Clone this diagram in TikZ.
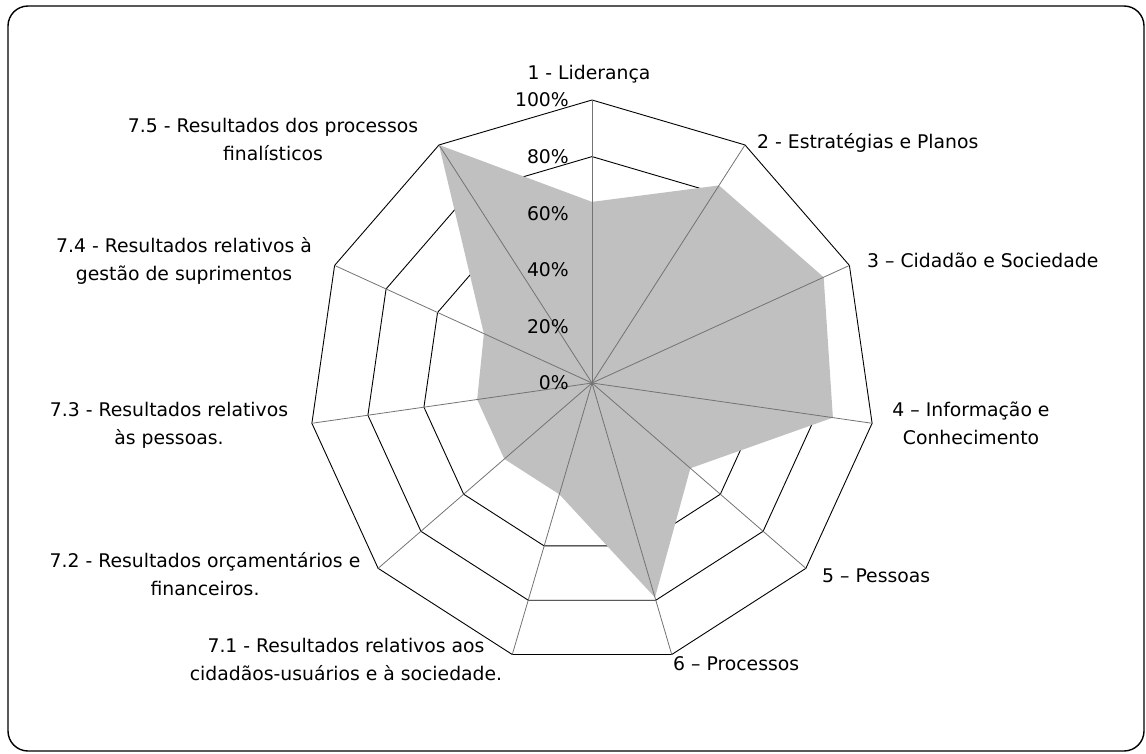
\documentclass[tikz,border=0pt]{standalone}
\usepackage{fontspec}
\setmainfont{DejaVu Sans}
\definecolor{areagray}{RGB}{192,192,192}
\definecolor{spokegray}{RGB}{115,115,115}
\begin{document}
\begin{tikzpicture}[x=1pt,y=-1pt,line join=round,font=\fontsize{18.8}{27.3}\selectfont]
	\tikzset{every node/.style={inner sep=0pt,text=black},
		ring/.style={line width=0.9pt},
		spoke/.style={line width=0.8pt,draw=spokegray},
		lbl/.style={align=center,anchor=base}}
	\useasboundingbox (0,0) rectangle (1146,753);
	\draw[line width=1.4pt,rounded corners=20pt] (8,6) rectangle (1144,751);
	\begin{scope}[shift={(592,383)}]
		\coordinate (c) at (0,0);
		\foreach \r in {1,...,5}
			\draw[ring] (-90:\r*56.6) \foreach \k in {1,...,10}{ -- (\k*360/11-90:\r*56.6)} -- cycle;
		\foreach \v [count=\k from 0] in {64,83,90,86,46,79,41,41,41,42,100}
			\coordinate (d\k) at (\k*360/11-90:\v*2.83);
		\fill[areagray] (d0)--(d1)--(d2)--(d3)--(d4)--(d5)--(d6)--(d7)--(d8)--(d9)--(d10)--cycle;
		\foreach \k in {0,...,10}
			\draw[spoke] (c)--(\k*360/11-90:283);
	\end{scope}
	% percent scale
	\path
	(569,383)node[anchor=east](p0){0\%}
	(569,326.4)node[anchor=east](p20){20\%}
	(569,269.8)node[anchor=east](p40){40\%}
	(569,213.2)node[anchor=east](p60){60\%}
	(569,156.6)node[anchor=east](p80){80\%}
	(569,100)node[anchor=east](p100){100\%}
	;
	% axis labels (base = last line)
	\path
	(589,79)node[lbl](l1){1 - Liderança}
	(757,148)node[anchor=base west](l2){2 - Estratégias e Planos}
	(867,267)node[anchor=base west](l3){3 – Cidadão e Sociedade}
	(971,444)node[lbl](l4){4 – Informação e\\Conhecimento}
	(822,582)node[anchor=base west](l5){5 – Pessoas}
	(673,670)node[anchor=base west](l6){6 – Processos}
	(346,680)node[lbl](l71){7.1 - Resultados relativos aos\\cidadãos-usuários e à sociedade.}
	(205,595)node[lbl](l72){7.2 - Resultados orçamentários e\\financeiros.}
	(169,444)node[lbl](l73){7.3 - Resultados relativos\\às pessoas.}
	(184,280)node[lbl](l74){7.4 - Resultados relativos à\\gestão de suprimentos}
	(273,160)node[lbl](l75){7.5 - Resultados dos processos\\finalísticos}
	;
\end{tikzpicture}
\end{document}
